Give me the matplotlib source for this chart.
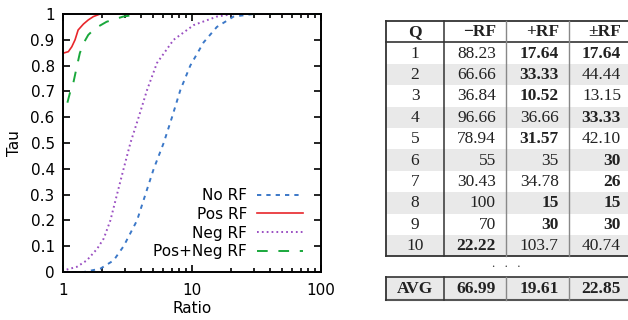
import matplotlib.pyplot as plt
from matplotlib.patches import Rectangle

# performance profile curves (ratio, tau)
no_rf_x = [1.0, 1.45, 1.95, 2.47, 2.95, 3.75, 4.35, 5.05, 6.03, 7.0, 8.12, 9.7, 12.3, 15.6, 21, 30, 100]
no_rf_y = [0.0, 0.0, 0.013, 0.045, 0.1, 0.2, 0.3, 0.4, 0.5, 0.6, 0.705, 0.8, 0.89, 0.95, 0.99, 1.0, 1.0]

pos_rf_x = [1.0, 1.0, 1.1, 1.17, 1.24, 1.31, 1.44, 1.57, 1.72, 1.94, 100]
pos_rf_y = [0.0, 0.848, 0.854, 0.873, 0.9, 0.938, 0.961, 0.977, 0.99, 1.0, 1.0]

neg_rf_x = [1.0, 1.01, 1.28, 1.53, 1.84, 2.07, 2.33, 2.62, 2.95, 3.33, 3.86, 4.48, 5.35, 7.2, 10.3, 15.6, 21, 100]
neg_rf_y = [0.0, 0.006, 0.02, 0.045, 0.09, 0.13, 0.2, 0.3, 0.4, 0.5, 0.6, 0.705, 0.81, 0.9, 0.957, 0.99, 1.0, 1.0]

both_rf_x = [1.0, 1.0, 1.07, 1.13, 1.2, 1.28, 1.35, 1.44, 1.57, 1.77, 2.18, 2.93, 3.95, 100]
both_rf_y = [0.0, 0.634, 0.647, 0.693, 0.731, 0.796, 0.848, 0.886, 0.919, 0.944, 0.97, 0.99, 1.0, 1.0]

# table data
headers = ['Q', '\u2212RF', '+RF', '\u00b1RF']
queries = ['1', '2', '3', '4', '5', '6', '7', '8', '9', '10']
minus_rf = ['88.23', '66.66', '36.84', '96.66', '78.94', '55', '30.43', '100', '70', '22.22']
plus_rf = ['17.64', '33.33', '10.52', '36.66', '31.57', '35', '34.78', '15', '30', '103.7']
pm_rf = ['17.64', '44.44', '13.15', '33.33', '42.10', '30', '26', '15', '30', '40.74']
avg_row = ['AVG', '66.99', '19.61', '22.85']
# which cells are bold (column index 1..3 per row)
bold_cells = [[2, 3], [2], [2], [3], [2], [3], [3], [2, 3], [2, 3], [1]]

fig = plt.figure(figsize=(6.28, 3.2), dpi=100)
plt.rcParams['font.family'] = ['DejaVu Sans']

ax = fig.add_axes([63 / 628, 48 / 320, 258 / 628, 258 / 320])
ax.plot(no_rf_x, no_rf_y, color='#3b78c8', linewidth=1.4, dashes=(2.2, 2.6), label='No RF')
ax.plot(pos_rf_x, pos_rf_y, color='#e8262b', linewidth=1.2, label='Pos RF')
ax.plot(neg_rf_x, neg_rf_y, color='#9a4fc2', linewidth=1.4, dashes=(0.9, 1.6), label='Neg RF')
ax.plot(both_rf_x, both_rf_y, color='#1aa83c', linewidth=1.4, dashes=(5.5, 5.5), label='Pos+Neg RF')

ax.set_xscale('log')
ax.set_xlim(1, 100)
ax.set_ylim(0, 1)
ax.set_yticks([i / 10 for i in range(11)])
ax.set_yticklabels(['0', '0.1', '0.2', '0.3', '0.4', '0.5', '0.6', '0.7', '0.8', '0.9', '1'])
ax.set_xticks([1, 10, 100])
ax.set_xticklabels(['1', '10', '100'])
ax.tick_params(which='both', direction='in', top=True, right=True, labelsize=11, width=1.2)
ax.tick_params(axis='y', pad=6)
ax.tick_params(axis='x', pad=8)
ax.tick_params(which='major', length=5)
ax.tick_params(which='minor', length=3)
for s in ax.spines.values():
    s.set_linewidth(1.4)
ax.set_xlabel('Ratio', fontsize=11, labelpad=2)
ax.set_ylabel('Tau', fontsize=11, labelpad=6)
ax.legend(loc='lower right', bbox_to_anchor=(0.953, 0.025), frameon=False, markerfirst=False,
          fontsize=11, handlelength=3.0, labelspacing=0.25, borderaxespad=0, handletextpad=0.65)

# table drawn in pixel coordinates
tab = fig.add_axes([0, 0, 1, 1])
tab.set_xlim(0, 628)
tab.set_ylim(320, 0)
tab.axis('off')

col_x = [385.7, 444.3, 506.3, 569.3, 631.5]
top = 21
row_h = 21.4
shade = '#e9e9e9'
serif = ['Liberation Serif', 'DejaVu Serif']
fs = 12.5


def cell_text(row_y, ci, txt, bold):
    if ci == 0:
        x, ha = (col_x[0] + col_x[1]) / 2, 'center'
    else:
        x, ha = col_x[ci + 1] - 10.5, 'right'
    tab.text(x, row_y + row_h / 2 + 0.5, txt, ha=ha, va='center', fontsize=fs,
             family=serif, fontweight='bold' if bold else 'normal', color='#222222')


# header
for ci, h in enumerate(headers):
    cell_text(top, ci, h, True)

rows = list(zip(queries, minus_rf, plus_rf, pm_rf))
for ri, row in enumerate(rows):
    y = top + row_h * (ri + 1)
    if ri % 2 == 1:
        tab.add_patch(Rectangle((col_x[0], y), col_x[-1] - col_x[0], row_h, color=shade, lw=0))
    for ci, val in enumerate(row):
        cell_text(y, ci, val, ci in bold_cells[ri])

bottom = top + row_h * (len(rows) + 1)
# grid lines
tab.plot([col_x[0], col_x[-1]], [top, top], color='#333333', lw=1.3)
tab.plot([col_x[0], col_x[-1]], [top + row_h, top + row_h], color='#333333', lw=1.2)
tab.plot([col_x[0], col_x[-1]], [bottom, bottom], color='#333333', lw=1.3)
tab.plot([col_x[0], col_x[0]], [top, bottom], color='#333333', lw=1.3)
tab.plot([col_x[1], col_x[1]], [top, bottom], color='#333333', lw=1.1)
for cx in col_x[2:4]:
    tab.plot([cx, cx], [top, bottom], color='#888888', lw=1.0)

tab.text(col_x[2], 264, '.   .   .', ha='center', va='center', fontsize=9, family=serif, color='#333333')

# average row
avg_top, avg_bot = 277, 300
tab.add_patch(Rectangle((col_x[0], avg_top), col_x[-1] - col_x[0], avg_bot - avg_top, color=shade, lw=0))
for ci, val in enumerate(avg_row):
    if ci == 0:
        x, ha = (col_x[0] + col_x[1]) / 2, 'center'
    else:
        x, ha = col_x[ci + 1] - 10.5, 'right'
    tab.text(x, (avg_top + avg_bot) / 2 + 0.5, val, ha=ha, va='center', fontsize=fs,
             family=serif, fontweight='bold', color='#222222')
tab.plot([col_x[0], col_x[-1]], [avg_top, avg_top], color='#333333', lw=1.2)
tab.plot([col_x[0], col_x[-1]], [avg_bot, avg_bot], color='#555555', lw=1.5)
tab.plot([col_x[0], col_x[0]], [avg_top, avg_bot], color='#333333', lw=1.3)
tab.plot([col_x[1], col_x[1]], [avg_top, avg_bot], color='#333333', lw=1.1)
for cx in col_x[2:4]:
    tab.plot([cx, cx], [avg_top, avg_bot], color='#888888', lw=1.0)

fig.savefig('out.png', dpi=100)
